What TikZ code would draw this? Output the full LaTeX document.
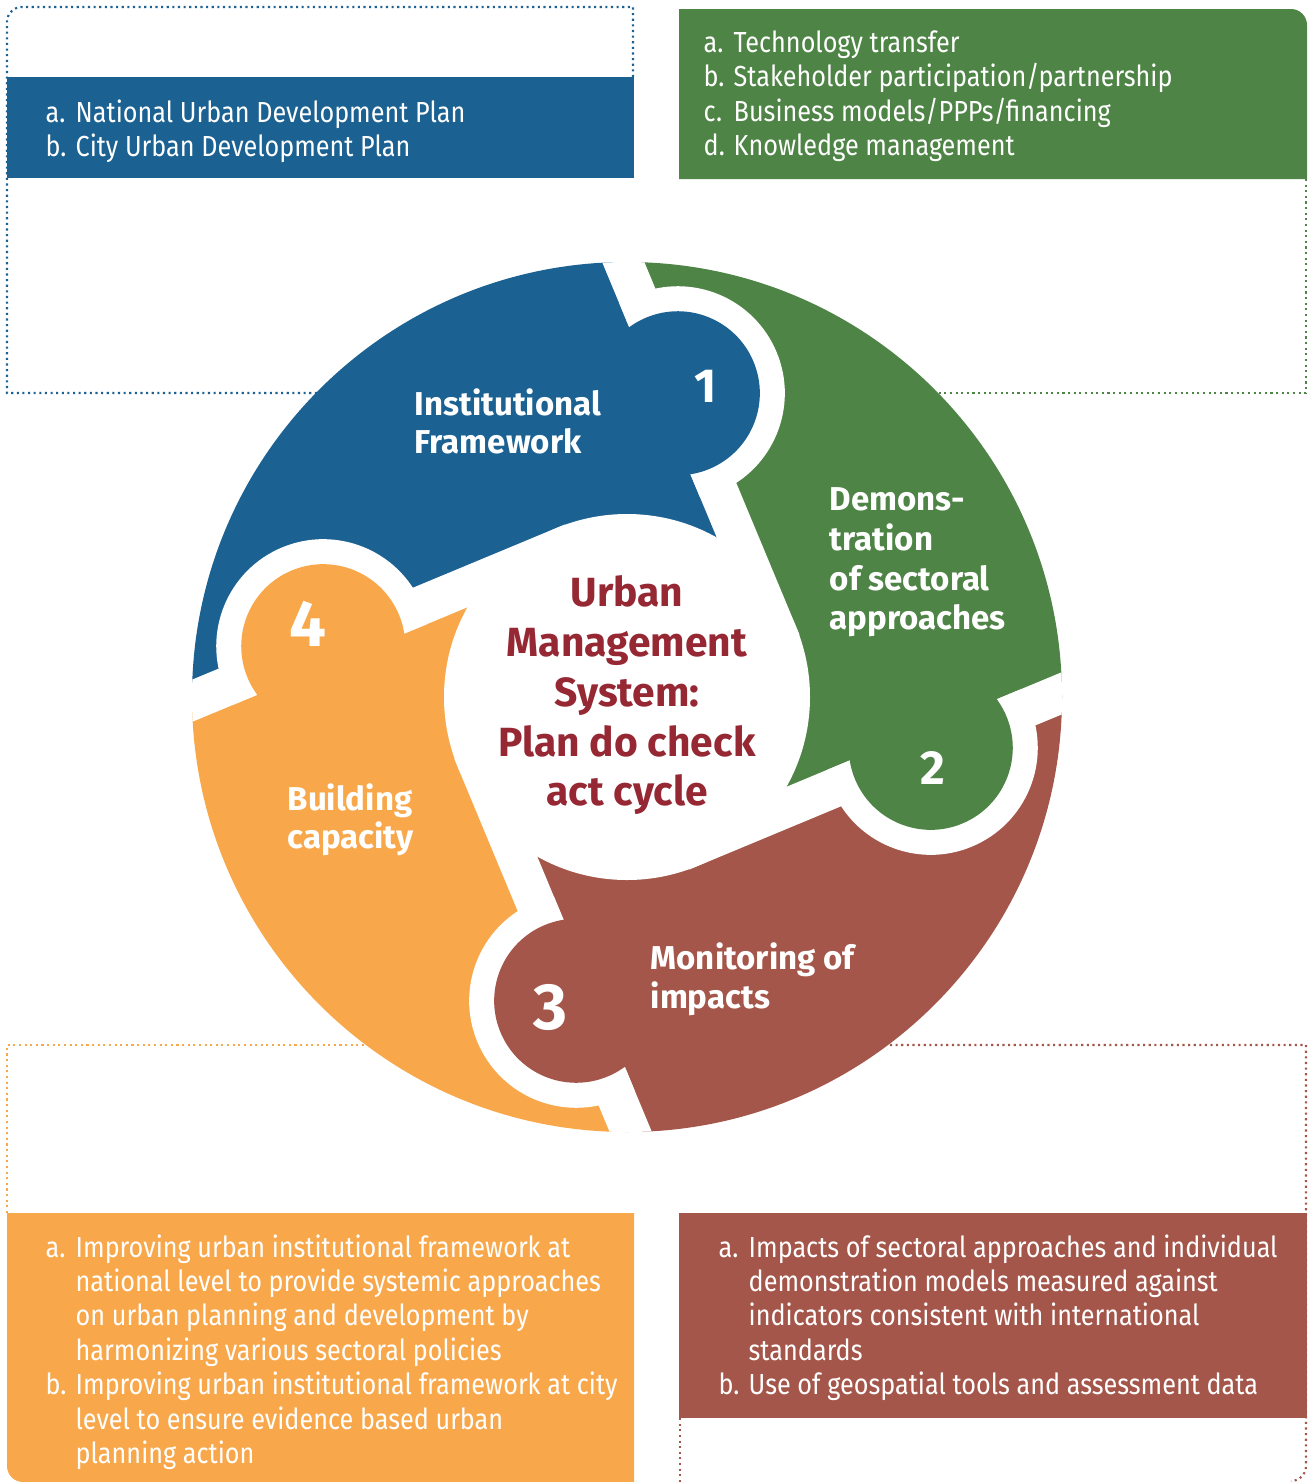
\documentclass[tikz,border=0pt]{standalone}
\usepackage{fontspec}
\setmainfont{Fira Sans}
\newfontfamily\listfont{Fira Sans}[FakeStretch=0.87]

\definecolor{umsblue}{RGB}{27,97,146}
\definecolor{umsgreen}{RGB}{78,132,69}
\definecolor{umsred}{RGB}{165,86,74}
\definecolor{umsorange}{RGB}{248,168,74}
\definecolor{umstitle}{RGB}{150,40,52}

\newcommand{\itm}[1]{\makebox[3mm][l]{#1}}

\tikzset{
  dotline/.style={line width=0.6pt, densely dotted},
  listtext/.style={text=white, anchor=base west, inner sep=0pt, font=\listfont\fontsize{8.25}{9.85}\selectfont},
  seglabel/.style={text=white, anchor=base west, inner sep=0pt, font=\bfseries\fontsize{9.4}{11}\selectfont},
  segnum/.style={text=white, inner sep=0pt, font=\bfseries\fontsize{13.6}{14}\selectfont},
  bignum/.style={segnum, font=\bfseries\fontsize{18.6}{19}\selectfont},
  hubtext/.style={text=umstitle, anchor=base, inner sep=0pt, font=\bfseries\fontsize{11.6}{14}\selectfont},
}

\begin{document}
\begin{tikzpicture}[x=0.1mm, y=-0.1mm]
    \useasboundingbox (0,0) rectangle (1309,1482);

    % dotted frames behind the wheel
    \draw [dotline, umsblue] (633,77) -- (633,7) -- (22,7) arc [start angle=270, end angle=180, radius=15] -- (7,393) -- (500,393);
    \draw [dotline, umsgreen] (1306,179) -- (1306,393) -- (850,393);
    \draw [dotline, umsorange] (7,1213) -- (7,1045) -- (450,1045);
    \draw [dotline, umsred] (800,1045) -- (1306,1045) -- (1306,1466) arc [start angle=0, end angle=90, radius=15];
    \draw [dotline, umsred] (680,1418) -- (680,1482);

    % filled boxes
    \fill [umsblue] (7,77) rectangle (634,178);
    \fill [umsgreen] (679,179) -- (679,9) -- (1291,9) arc [start angle=270, end angle=360, radius=16] -- (1307,179) -- cycle;
    \fill [umsorange] (7,1213) -- (634,1213) -- (634,1482) -- (23,1482) arc [start angle=90, end angle=180, radius=16] -- cycle;
    \fill [umsred] (679,1213) rectangle (1307,1418);

    % the wheel
    \begin{scope}[shift={(627,697)}, y=0.1mm]
        \clip (0,0) circle [radius=435];
        \foreach \i in {0,...,3} {
            \begin{scope}[rotate=-90*\i, shift={(80.5:308)}, rotate=112.6]
                \coordinate (far\i) at (200,0);
                \coordinate (near\i) at (-261,0);
            \end{scope}
        }
        \foreach \i/\col in {0/umsblue, 1/umsgreen, 2/umsred, 3/umsorange} {
            \pgfmathtruncatemacro{\j}{mod(\i+3,4)}
            \fill [\col] (far\i) -- (near\i) -- (0,0) -- (near\j) -- (far\j) -- ({135-90*\i}:850) -- cycle;
        }
        \foreach \i/\col in {0/umsblue, 1/umsgreen, 2/umsred, 3/umsorange} {
            \begin{scope}[rotate=-90*\i, shift={(80.5:308)}, rotate=112.6]
                \fill [white] (-270,-19.5) rectangle (210,19.5);
                \begin{scope}
                    \clip (-130,19.5) rectangle (130,-130);
                    \fill [white] (0,0) circle [radius=107];
                \end{scope}
                \fill [\col] (0,0) circle [radius=82];
            \end{scope}
        }
        \fill [white] (0,0) circle [radius=183];
    \end{scope}

    % box texts
    \node [listtext] (plan1) at (45,122) {\itm{a.}National Urban Development Plan};
    \node [listtext] (plan2) at (45,156) {\itm{b.}City Urban Development Plan};

    \node [listtext] (demo1) at (703,52) {\itm{a.}Technology transfer};
    \node [listtext] (demo2) at (703,86.5) {\itm{b.}Stakeholder participation/partnership};
    \node [listtext] (demo3) at (703,121) {\itm{c.}Business models/PPPs/financing};
    \node [listtext] (demo4) at (703,155.5) {\itm{d.}Knowledge management};

    \foreach \txt [count=\k from 0] in {{\itm{a.}Improving urban institutional framework at},
            {\itm{}national level to provide systemic approaches},
            {\itm{}on urban planning and development by},
            {\itm{}harmonizing various sectoral policies},
            {\itm{b.}Improving urban institutional framework at city},
            {\itm{}level to ensure evidence based urban},
            {\itm{}planning action}}
        \node [listtext] (build\k) at (45,{1257+34.4*\k}) {\txt};

    \foreach \txt [count=\k from 0] in {{\itm{a.}Impacts of sectoral approaches and individual},
            {\itm{}demonstration models measured against},
            {\itm{}indicators consistent with international},
            {\itm{}standards},
            {\itm{b.}Use of geospatial tools and assessment data}}
        \node [listtext] (monit\k) at (718,{1257+34.4*\k}) {\txt};

    % wheel labels
    \node [seglabel] (inst1) at (414,415) {Institutional};
    \node [seglabel] (inst2) at (414,453) {Framework};
    \node [seglabel] (dem1) at (829,510) {Demons-};
    \node [seglabel] (dem2) at (829,550) {tration};
    \node [seglabel] (dem3) at (829,590) {of sectoral};
    \node [seglabel] (dem4) at (829,629) {approaches};
    \node [seglabel] (mon1) at (650,969) {Monitoring of};
    \node [seglabel] (mon2) at (650,1008) {impacts};
    \node [seglabel] (bui1) at (287,810) {Building};
    \node [seglabel] (bui2) at (287,848) {capacity};

    \node [segnum] (num1) at (706,386) {1};
    \node [segnum] (num2) at (933,768) {2};
    \node [bignum] (num3) at (550.5,1007.5) {3};
    \node [bignum] (num4) at (308,624) {4};

    % centre
    \node [hubtext] (hub1) at (627,606.7) {Urban};
    \node [hubtext] (hub2) at (627,656.7) {Management};
    \node [hubtext] (hub3) at (627,706.7) {System:};
    \node [hubtext] (hub4) at (627,756.7) {Plan do check};
    \node [hubtext] (hub5) at (627,805) {act cycle};
\end{tikzpicture}
\end{document}
